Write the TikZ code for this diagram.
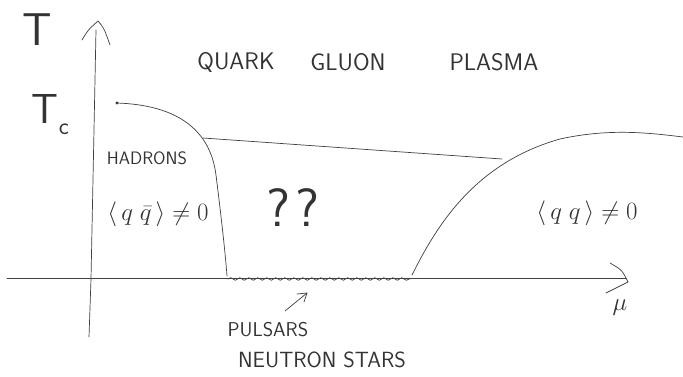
\documentclass[tikz,border=0pt]{standalone}
\usetikzlibrary{decorations.pathmorphing}
\begin{document}
\begin{tikzpicture}[x=1pt,y=-1pt]
\tikzset{
  pen/.style={draw=black!75, line width=0.7pt, line cap=round, line join=round},
  lbl/.style={font=\sffamily, text=black!80, inner sep=0pt, anchor=center}
}
\useasboundingbox[fill=white] (0,0) rectangle (683,377);
% axes
\coordinate (yb) at (89,337);
\coordinate (yt) at (96,30);
\coordinate (yh1) at (82,40);
\coordinate (ya) at (98,21);
\coordinate (yh2) at (110,45);
\draw[pen] (yb) -- (91,279) -- (yt);
\draw[pen] (yh1) .. controls (88,30) .. (ya) .. controls (104,28) .. (yh2);
\coordinate (xl) at (7,278);
\coordinate (xr) at (626,278);
\coordinate (xh1) at (610,263);
\coordinate (xa) at (628,282);
\coordinate (xh2) at (606,293);
\draw[pen] (xl) -- (xr);
\draw[pen] (xh1) .. controls (622,270) .. (xa) -- (xh2);
% axis labels
\node[lbl, font=\sffamily\fontsize{46}{46}\selectfont] (T) at (37,30) {T};
\node[lbl, font=\sffamily\fontsize{42}{42}\selectfont] (Tc) at (45,109) {T};
\node[lbl, font=\sffamily\fontsize{24}{24}\selectfont] (c) at (64,129) {c};
\node[lbl, font=\fontsize{26}{26}\selectfont] (mu) at (620,308) {$\mu$};
% hadron boundary
\coordinate (d0) at (117,103);
\coordinate (hb) at (227,276);
\fill[black!80] (d0) circle (1.6pt);
\draw[pen] (d0) .. controls (175,105) and (210,128) .. (216,175)
                .. controls (221,215) and (225,250) .. (hb);
% upper line
\coordinate (l1) at (203,138);
\coordinate (l2) at (502,159);
\draw[pen] (l1) -- (l2);
% right boundary
\coordinate (rb) at (412,275);
\coordinate (re) at (683,137);
\draw[pen] (rb) .. controls (437,225) and (475,163) .. (560,139)
                .. controls (610,128) and (650,133) .. (re);
% wavy line
\coordinate (w1) at (228,279);
\coordinate (w2) at (410,279);
\draw[pen, decorate, decoration={snake, amplitude=1.3pt, segment length=9pt}] (w1) -- (w2);
% pulsar arrow
\coordinate (pa) at (285,311);
\coordinate (ph) at (307,293);
\draw[pen] (pa) -- (ph);
\draw[pen] (297,294) -- (ph) -- (304,302);
% labels
\node[lbl, font=\sffamily\fontsize{24}{24}\selectfont] (qk) at (236,62) {QUARK};
\node[lbl, font=\sffamily\fontsize{24}{24}\selectfont] (gl) at (348,62) {GLUON};
\node[lbl, font=\sffamily\fontsize{24}{24}\selectfont] (pl) at (494,62) {PLASMA};
\node[lbl, font=\sffamily\fontsize{18}{18}\selectfont] (had) at (147,158) {HADRONS};
\node[lbl, font=\fontsize{23}{23}\selectfont] (cl) at (158,214) {$\langle\, q\;\bar q\,\rangle\neq 0$};
\node[lbl, font=\sffamily\fontsize{54}{54}\selectfont] (qq) at (293,208) {?\hspace{6pt}?};
\node[lbl, font=\fontsize{24}{24}\selectfont] (cr) at (587,213) {$\langle\, q\;q\,\rangle\neq 0$};
\node[lbl, font=\sffamily\fontsize{20}{20}\selectfont] (pu) at (268,330) {PULSARS};
\node[lbl, font=\sffamily\fontsize{22}{22}\selectfont] (ns) at (322,360) {NEUTRON STARS};
\end{tikzpicture}
\end{document}
